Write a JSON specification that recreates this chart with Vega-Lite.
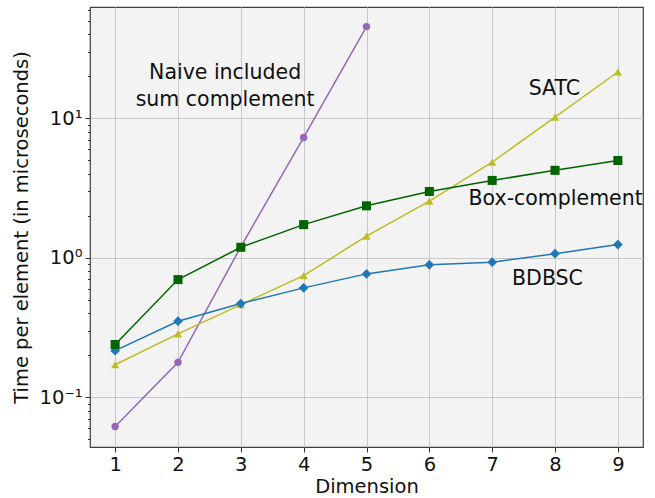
{
  "$schema": "https://vega.github.io/schema/vega-lite/v6.json",
  "width": 553,
  "height": 440,
  "autosize": "none",
  "padding": {"left": 90, "top": 7, "right": 12, "bottom": 51},
  "background": "white",
  "config": {
    "view": {"fill": "#f3f3f3", "stroke": "#3f3f3f", "strokeWidth": 1.2},
    "font": "DejaVu Sans",
    "axis": {
      "labelFont": "DejaVu Sans",
      "titleFont": "DejaVu Sans",
      "labelFontSize": 19.5,
      "titleFontSize": 19.5,
      "titleFontWeight": "normal",
      "labelColor": "#111111",
      "titleColor": "#111111",
      "domain": false,
      "tickColor": "#333333",
      "gridColor": "#c8c8c8",
      "gridWidth": 1
    }
  },
  "datasets": {
    "series": [
      {"series": "Naive", "dim": 1, "time": 0.0618},
      {"series": "Naive", "dim": 2, "time": 0.178},
      {"series": "Naive", "dim": 3, "time": 1.2},
      {"series": "Naive", "dim": 4, "time": 7.3},
      {"series": "Naive", "dim": 5, "time": 45.5},
      {"series": "SATC", "dim": 1, "time": 0.171},
      {"series": "SATC", "dim": 2, "time": 0.285},
      {"series": "SATC", "dim": 3, "time": 0.462},
      {"series": "SATC", "dim": 4, "time": 0.746},
      {"series": "SATC", "dim": 5, "time": 1.43},
      {"series": "SATC", "dim": 6, "time": 2.55},
      {"series": "SATC", "dim": 7, "time": 4.86},
      {"series": "SATC", "dim": 8, "time": 10.2},
      {"series": "SATC", "dim": 9, "time": 21.5},
      {"series": "BDBSC", "dim": 1, "time": 0.216},
      {"series": "BDBSC", "dim": 2, "time": 0.351},
      {"series": "BDBSC", "dim": 3, "time": 0.470},
      {"series": "BDBSC", "dim": 4, "time": 0.609},
      {"series": "BDBSC", "dim": 5, "time": 0.767},
      {"series": "BDBSC", "dim": 6, "time": 0.891},
      {"series": "BDBSC", "dim": 7, "time": 0.930},
      {"series": "BDBSC", "dim": 8, "time": 1.07},
      {"series": "BDBSC", "dim": 9, "time": 1.245},
      {"series": "Box-complement", "dim": 1, "time": 0.239},
      {"series": "Box-complement", "dim": 2, "time": 0.698},
      {"series": "Box-complement", "dim": 3, "time": 1.19},
      {"series": "Box-complement", "dim": 4, "time": 1.73},
      {"series": "Box-complement", "dim": 5, "time": 2.36},
      {"series": "Box-complement", "dim": 6, "time": 2.99},
      {"series": "Box-complement", "dim": 7, "time": 3.59},
      {"series": "Box-complement", "dim": 8, "time": 4.24},
      {"series": "Box-complement", "dim": 9, "time": 4.99}
    ],
    "labels": [
      {"text": ["Naive included", "sum complement"], "dim": 2.75, "time": 21.2},
      {"text": ["SATC"], "dim": 7.99, "time": 16.2},
      {"text": ["Box-complement"], "dim": 8.01, "time": 2.66},
      {"text": ["BDBSC"], "dim": 7.88, "time": 0.71}
    ]
  },
  "layer": [
    {
      "data": {"name": "series"},
      "mark": {"type": "line", "strokeWidth": 1.5, "clip": true},
      "encoding": {
        "x": {
          "field": "dim", "type": "quantitative",
          "scale": {"domain": [0.6, 9.4], "nice": false, "zero": false},
          "axis": {
            "title": "Dimension",
            "values": [1, 2, 3, 4, 5, 6, 7, 8, 9],
            "format": "d",
            "tickSize": 5,
            "labelPadding": 3,
            "titlePadding": 4,
            "grid": true
          }
        },
        "y": {
          "field": "time", "type": "quantitative",
          "scale": {"type": "log", "domain": [0.044, 62.9], "nice": false},
          "axis": {
            "title": "Time per element (in microseconds)",
            "values": [0.05, 0.06, 0.07, 0.08, 0.09, 0.1, 0.2, 0.3, 0.4, 0.5, 0.6, 0.7, 0.8, 0.9, 1, 2, 3, 4, 5, 6, 7, 8, 9, 10, 20, 30, 40, 50, 60],
            "labelExpr": "datum.value == 10 ? '10¹' : datum.value == 1 ? '10⁰' : datum.value == 0.1 ? '10⁻¹' : ''",
            "tickSize": {"condition": {"test": "indexof([0.1, 1, 10], datum.value) >= 0", "value": 5}, "value": 2.5},
            "gridOpacity": {"condition": {"test": "indexof([0.1, 1, 10], datum.value) >= 0", "value": 1}, "value": 0},
            "grid": true,
            "labelPadding": 3,
            "titlePadding": 8
          }
        },
        "color": {
          "field": "series", "type": "nominal",
          "scale": {"domain": ["BDBSC", "Box-complement", "SATC", "Naive"], "range": ["#1f77b4", "#006400", "#bcbd22", "#9467bd"]},
          "legend": null
        },
        "detail": {"field": "series"}
      }
    },
    {
      "data": {"name": "series"},
      "mark": {"type": "point", "filled": true, "opacity": 1, "clip": true},
      "encoding": {
        "x": {"field": "dim", "type": "quantitative"},
        "y": {"field": "time", "type": "quantitative"},
        "color": {"field": "series", "type": "nominal", "legend": null},
        "shape": {
          "field": "series", "type": "nominal",
          "scale": {"domain": ["BDBSC", "Box-complement", "SATC", "Naive"], "range": ["diamond", "square", "triangle-up", "circle"]},
          "legend": null
        },
        "size": {
          "field": "series", "type": "nominal",
          "scale": {"domain": ["BDBSC", "Box-complement", "SATC", "Naive"], "range": [95, 55, 45, 50]},
          "legend": null
        }
      }
    },
    {
      "data": {"name": "labels"},
      "mark": {"type": "text", "font": "DejaVu Sans", "fontSize": 20.5, "color": "#111111", "align": "center", "baseline": "middle", "lineHeight": 27},
      "encoding": {
        "x": {"field": "dim", "type": "quantitative"},
        "y": {"field": "time", "type": "quantitative"},
        "text": {"field": "text"}
      }
    }
  ]
}
